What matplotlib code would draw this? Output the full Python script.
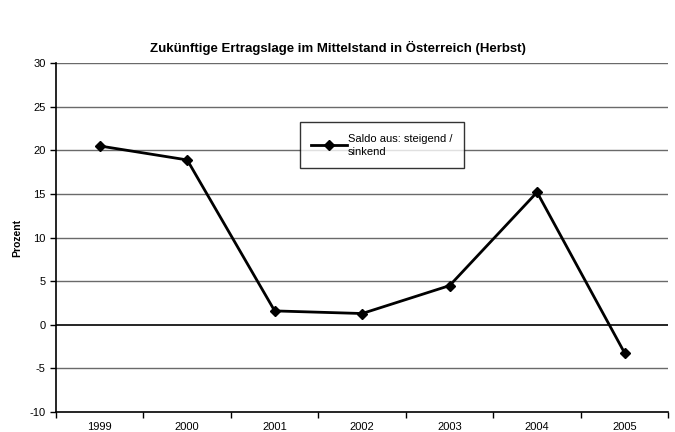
import numpy as np
import matplotlib.pyplot as plt

plt.rcParams['font.family'] = ['Liberation Sans', 'DejaVu Sans']
plt.rcParams['axes.unicode_minus'] = False

jahre = ['1999', '2000', '2001', '2002', '2003', '2004', '2005']
saldo = [20.5, 18.9, 1.6, 1.3, 4.5, 15.2, -3.2]

fig = plt.figure(figsize=(6.75, 4.32), dpi=100)
ax = fig.add_axes([0.083, 0.046, 0.907, 0.808])

x = np.arange(len(jahre))
ax.plot(x, saldo, color='black', linewidth=2, marker='D', markersize=5.5,
        label='Saldo aus: steigend /\nsinkend', zorder=3)

ax.set_xlim(-0.5, len(jahre) - 0.5)
ax.set_ylim(-10, 30)
ax.set_yticks(range(-10, 31, 5))
ax.set_xticks(x)
ax.set_xticklabels(jahre)
ax.set_xticks(np.arange(-0.5, len(jahre)), minor=True)
ax.tick_params(axis='x', which='major', length=0, pad=7, labelsize=8)
ax.tick_params(axis='x', which='minor', length=4, width=1, direction='out')
ax.tick_params(axis='y', length=4, width=1, direction='out', labelsize=8)

for v in range(-5, 31, 5):
    if v != 0:
        ax.axhline(v, color='#6a6a6a', linewidth=1, zorder=1)
ax.axhline(0, color='black', linewidth=1.2, zorder=2)

ax.spines['top'].set_visible(False)
ax.spines['right'].set_visible(False)
ax.spines['left'].set_linewidth(1.2)
ax.spines['bottom'].set_linewidth(1.2)

ax.set_ylabel('Prozent', fontsize=7.5, fontweight='bold', labelpad=5)
fig.suptitle('Zukünftige Ertragslage im Mittelstand in Österreich (Herbst)',
             fontsize=9.5, fontweight='bold', y=0.905)

leg = ax.legend(loc='upper left', bbox_to_anchor=(0.399, 0.83), borderaxespad=0,
                fontsize=8, frameon=True, fancybox=False, edgecolor='black',
                handlelength=3.2, borderpad=1.0, handletextpad=0.1)
leg.get_frame().set_linewidth(1)
for t in leg.get_texts():
    t.set_linespacing(1.45)

plt.savefig('out.png', dpi=100)
